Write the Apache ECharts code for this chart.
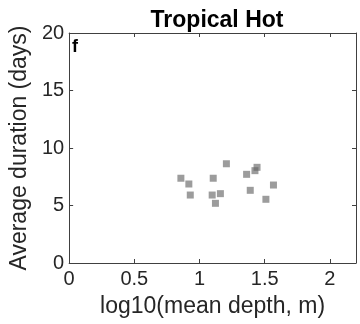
<!DOCTYPE html>
<html><head><meta charset="utf-8">
<script src="https://cdn.jsdelivr.net/npm/echarts@6/dist/echarts.min.js"></script>
<style>html,body{margin:0;padding:0;background:#fff}#c{width:360px;height:324px}</style>
</head><body><div id="c"></div>
<script>
var xValues = [0.857, 0.918, 0.929, 1.105, 1.097, 1.122, 1.160, 1.206, 1.361, 1.389, 1.425, 1.441, 1.567, 1.509];
var yValues = [7.37, 6.87, 5.91, 7.37, 5.91, 5.19, 6.03, 8.63, 7.71, 6.32, 8.03, 8.32, 6.78, 5.54];
var xTicks = [0, 0.5, 1, 1.5, 2];
var yTicks = [0, 5, 10, 15, 20];
var data = xValues.map(function(x, i){ return [x, yValues[i]]; });
var font = 'Liberation Sans, Arial, sans-serif';
var axisCol = '#262626';
var chart = echarts.init(document.getElementById('c'));
function xa(show, pos){
  return {type:'value', min:0, max:2.2, interval:0.5, position:pos,
    axisLine:{show:true, onZero:false, lineStyle:{color:'#404040', width:1}},
    axisTick:{show:true, inside:true, length:4, lineStyle:{color:'#404040'}},
    axisLabel:{show:show, color:axisCol, fontSize:20, fontFamily:font, margin:6,
      formatter:function(v){ return xTicks.indexOf(v) >= 0 ? String(v) : ''; }},
    splitLine:{show:false},
    name: show ? 'log10(mean depth, m)' : '', nameLocation:'middle', nameGap:32,
    nameTextStyle:{color:axisCol, fontSize:23, fontFamily:font}};
}
function ya(show, pos){
  return {type:'value', min:0, max:20, interval:5, position:pos,
    axisLine:{show:true, onZero:false, lineStyle:{color:'#404040', width:1}},
    axisTick:{show:true, inside:true, length:4, lineStyle:{color:'#404040'}},
    axisLabel:{show:show, color:axisCol, fontSize:20, fontFamily:font, margin:5,
      formatter:function(v){ return yTicks.indexOf(v) >= 0 ? String(v) : ''; }},
    splitLine:{show:false},
    name: show ? 'Average duration (days)' : '', nameLocation:'middle', nameGap:31,
    nameTextStyle:{color:axisCol, fontSize:23, fontFamily:font}};
}
chart.setOption({
  animation:false,
  title:{text:'Tropical Hot', left:212, textAlign:'center', top:4,
    textStyle:{fontSize:23, fontWeight:'bold', color:'#000', fontFamily:font}},
  grid:{left:68, top:33, right:4, bottom:61, containLabel:false},
  xAxis:[xa(true,'bottom'), xa(false,'top')],
  yAxis:[ya(true,'left'), ya(false,'right')],
  graphic:[{type:'text', left:72, top:38, style:{text:'f', font:'bold 18px '+font, fill:'#000'}}],
  series:[{type:'scatter', xAxisIndex:0, yAxisIndex:0, data:data, symbol:'rect', symbolSize:7,
    itemStyle:{color:'rgba(100,100,100,0.8)'}}]
});
</script></body></html>
